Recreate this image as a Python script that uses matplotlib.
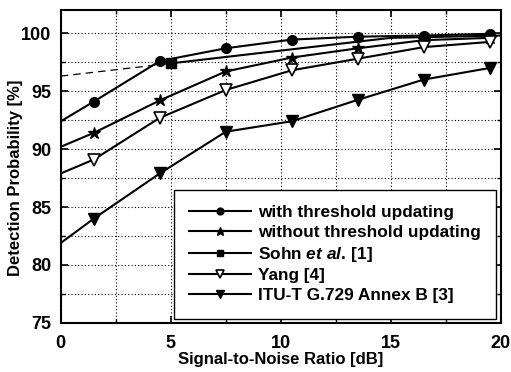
import matplotlib
matplotlib.use("Agg")
import matplotlib.pyplot as plt
from matplotlib.ticker import MultipleLocator

plt.rcParams['font.family'] = ['Liberation Sans', 'DejaVu Sans']
plt.rcParams['font.weight'] = 'bold'
plt.rcParams['mathtext.fontset'] = 'custom'
plt.rcParams['mathtext.it'] = 'Liberation Sans:italic:bold'
plt.rcParams['mathtext.rm'] = 'Liberation Sans:bold'

x_main = [0, 1.5, 4.5, 7.5, 10.5, 13.5, 16.5, 19.5]
with_thr = [92.4, 94.1, 97.6, 98.7, 99.45, 99.7, 99.8, 99.95]
without_thr = [90.2, 91.4, 94.2, 96.7, 97.9, 98.7, 99.4, 99.6]
yang = [87.9, 89.1, 92.7, 95.1, 96.8, 97.8, 98.8, 99.25]
itu = [81.9, 84.0, 87.9, 91.5, 92.4, 94.25, 96.0, 97.0]
x_sohn = [5, 10, 15, 20]
sohn = [97.4, 98.5, 99.6, 99.8]
x_sohn_ext = [0, 5]
sohn_ext = [96.3, 97.4]

labels = ["with threshold updating", "without threshold updating",
          "Sohn $\\it{et}$ $\\it{al.}\\,$[1]", "Yang [4]", "ITU-T G.729 Annex B [3]"]

fig = plt.figure(figsize=(5.11, 3.72), dpi=100)
ax = fig.add_axes([0.119, 0.132, 0.861, 0.841])

lw = 1.5
skip0 = list(range(1, len(x_main)))
ax.plot(x_main, with_thr, color='black', lw=lw, marker='o', ms=7, markevery=skip0, label=labels[0])
ax.plot(x_main, without_thr, color='black', lw=lw, marker='*', ms=9, markevery=skip0, label=labels[1])
ax.plot(x_sohn, sohn, color='black', lw=lw, marker='s', ms=6.5, markevery=[0], label=labels[2])
ax.plot(x_main, yang, color='black', lw=lw, marker='v', ms=8, mfc='white', mew=1.2, markevery=skip0, label=labels[3])
ax.plot(x_main, itu, color='black', lw=lw, marker='v', ms=8, markevery=skip0, label=labels[4])
ax.plot(x_sohn_ext, sohn_ext, color='black', lw=0.9, ls=(0, (6, 4)))

ax.set_xlim(0, 20)
ax.set_ylim(75, 102)
ax.xaxis.set_major_locator(MultipleLocator(5))
ax.xaxis.set_minor_locator(MultipleLocator(2.5))
ax.yaxis.set_major_locator(MultipleLocator(5))
ax.yaxis.set_minor_locator(MultipleLocator(2.5))
ax.grid(True, which='both', ls=(0, (1, 2)), color='black', lw=0.8)
ax.tick_params(which='both', direction='in', top=True, right=True, labelsize=13)
ax.tick_params(which='major', length=5, width=1.2)
ax.tick_params(which='minor', length=3, width=1.0)
ax.tick_params(axis='x', which='major', pad=9)
ax.tick_params(axis='y', which='major', pad=7)
for s in ax.spines.values():
    s.set_linewidth(1.5)

ax.set_xlabel("Signal-to-Noise Ratio [dB]", fontsize=12, fontweight='bold', labelpad=0)
ax.set_ylabel("Detection Probability [%]", fontsize=12, fontweight='bold', labelpad=2)
ax.yaxis.set_label_coords(-0.085, 0.465)

leg = ax.legend(loc='lower right', fontsize=12.4, handlelength=3.6, handletextpad=0.4,
                frameon=True, fancybox=False, edgecolor='black', framealpha=1,
                borderaxespad=0.25, labelspacing=0.27, borderpad=0.9, markerscale=0.7)
leg.get_frame().set_linewidth(1.0)

fig.savefig("out.png", dpi=100)
